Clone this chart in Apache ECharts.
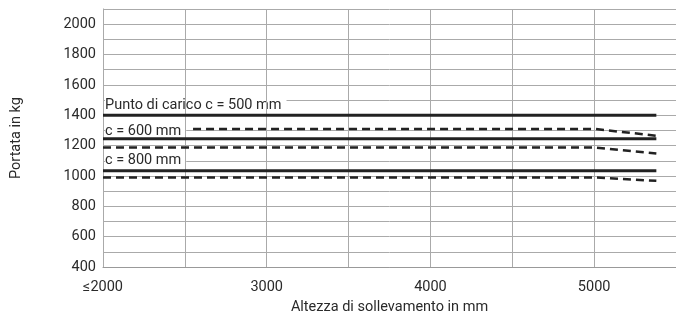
<!doctype html>
<html>
<head>
<meta charset="UTF-8">
<title>Portata</title>
<script src="https://cdn.jsdelivr.net/npm/echarts@6/dist/echarts.min.js"></script>
<style>
  html, body { margin: 0; padding: 0; background: #fff; }
  #main { width: 676px; height: 314px; }
</style>
</head>
<body>
<div id="main"></div>
<script>
// dati (altezza mm, portata kg)
var heightsLong = [2000, 5380];
var heights600 = [2550, 5000, 5380];
var heightsDrop = [2000, 5000, 5380];

var solid500 = [1400, 1400];
var solid600 = [1245, 1245];
var solid800 = [1035, 1035];
var dashed600 = [1310, 1310, 1265];
var dashed600b = [1188, 1188, 1148];
var dashed800 = [990, 990, 968];

var curveLabels = ['Punto di carico c = 500 mm', 'c = 600 mm', 'c = 800 mm'];
var labelValues = [1462, 1291, 1100];

function pairs(xs, ys) {
    return xs.map(function (x, i) { return [x, ys[i]]; });
}

var myChart = echarts.init(document.getElementById('main'));

var font = 'Roboto, "Noto Sans", sans-serif';
var fs = 14.5;
var ink = '#222';
var txt = '#2a2a2a';

function lineSeries(xs, ys, dashed) {
    return {
        type: 'line',
        data: pairs(xs, ys),
        symbol: 'none',
        silent: true,
        z: 3,
        lineStyle: {
            color: ink,
            width: dashed ? 2.5 : 3,
            type: dashed ? [8, 5] : 'solid',
            cap: 'butt'
        }
    };
}

var series = [
    lineSeries(heightsLong, solid500, false),
    lineSeries(heightsLong, solid600, false),
    lineSeries(heightsLong, solid800, false),
    lineSeries(heights600, dashed600, true),
    lineSeries(heightsDrop, dashed600b, true),
    lineSeries(heightsDrop, dashed800, true)
];

// etichette delle curve: il fondo bianco copre le linee orizzontali, non quelle verticali
series.push({
    type: 'scatter',
    symbolSize: 0,
    silent: true,
    z: 1,
    itemStyle: { opacity: 1 },
    data: labelValues.map(function (v, i) { return { value: [2000, v], name: curveLabels[i] }; }),
    label: {
        show: true,
        position: 'right',
        distance: 2,
        formatter: function (p) { return p.name; },
        fontFamily: font,
        fontSize: fs,
        color: txt,
        backgroundColor: '#fff',
        padding: [0, 5, 0, 0]
    }
});

option = {
    animation: false,
    grid: { left: 103, right: 0, top: 9, bottom: 47, outerBoundsMode: 'none' },
    xAxis: {
        type: 'value',
        z: 2,
        min: 2000,
        max: 5500,
        interval: 500,
        name: 'Altezza di sollevamento in mm',
        nameLocation: 'middle',
        nameGap: 33,
        nameTextStyle: { fontFamily: font, fontSize: fs, color: txt },
        axisLine: { show: true, lineStyle: { color: '#999', width: 1 } },
        axisTick: { show: false },
        axisLabel: {
            margin: 13,
            fontFamily: font,
            fontSize: fs,
            color: txt,
            formatter: function (v) {
                if (v === 2000) return '≤2000';
                return v % 1000 === 0 && v < 5500 ? String(v) : '';
            }
        },
        splitLine: { show: true, lineStyle: { color: '#aaa', width: 1 } }
    },
    yAxis: {
        type: 'value',
        z: 0,
        min: 400,
        max: 2100,
        interval: 100,
        name: 'Portata in kg',
        nameLocation: 'middle',
        nameGap: 79,
        nameTextStyle: { fontFamily: font, fontSize: fs, color: txt },
        axisLine: { show: true, lineStyle: { color: '#999', width: 1 } },
        axisTick: { show: false },
        axisLabel: {
            margin: 7,
            fontFamily: font,
            fontSize: fs,
            color: txt,
            formatter: function (v) { return v % 200 === 0 ? String(v) : ''; }
        },
        splitLine: { show: true, lineStyle: { color: '#aaa', width: 1 } }
    },
    series: series
};

myChart.setOption(option);
</script>
</body>
</html>
